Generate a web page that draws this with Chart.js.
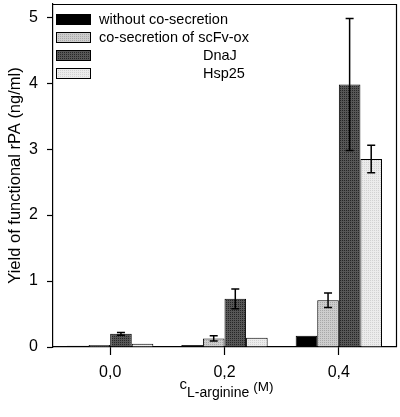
<!DOCTYPE html>
<html>
<head>
<meta charset="utf-8">
<script src="https://cdn.jsdelivr.net/npm/chart.js@4.4.1/dist/chart.umd.min.js"></script>
<style>
  html, body { margin: 0; padding: 0; background: #fff; }
  #wrap { width: 400px; height: 417px; }
</style>
</head>
<body>
<div id="wrap"><canvas id="c" width="400" height="417"></canvas></div>
<script>
// ---- data ----
const categories = ['0,0', '0,2', '0,4'];
const seriesNames = ['without co-secretion', 'co-secretion of scFv-ox', 'DnaJ', 'Hsp25'];
const withoutCoSecretion = [0.02, 0.03, 0.17];
const scFvOx = [0.03, 0.13, 0.71];
const dnaJ = [0.20, 0.73, 3.98];
const hsp25 = [0.05, 0.14, 2.85];
const errWithout = [0, 0, 0];
const errScFvOx = [0, 0.04, 0.11];
const errDnaJ = [0.02, 0.15, 1.00];
const errHsp25 = [0, 0, 0.21];
const yTicks = [0, 1, 2, 3, 4, 5];
const xTitleMain = 'c';
const xTitleSub = 'L-arginine';
const xTitleUnit = '(M)';
const yTitle = 'Yield of functional rPA (ng/ml)';

// ---- patterns ----
function makePattern(base, dot) {
  const p = document.createElement('canvas');
  p.width = 2; p.height = 2;
  const g = p.getContext('2d');
  g.fillStyle = base; g.fillRect(0, 0, 2, 2);
  g.fillStyle = dot; g.fillRect(0, 0, 1, 1);
  return document.getElementById('c').getContext('2d').createPattern(p, 'repeat');
}
const fills = [
  '#000000',
  makePattern('#cdcdcd', '#a8a8a8'),
  makePattern('#575757', '#262626'),
  makePattern('#ececec', '#d2d2d2')
];

const values = [withoutCoSecretion, scFvOx, dnaJ, hsp25];
const errors = [errWithout, errScFvOx, errDnaJ, errHsp25];

const datasets = values.map((v, i) => ({
  label: seriesNames[i],
  data: v,
  backgroundColor: fills[i],
  borderColor: '#000',
  borderWidth: 1,
  borderSkipped: 'bottom',
  categoryPercentage: 0.755,
  barPercentage: 1.0
}));

const framePlugin = {
  id: 'frame',
  afterDraw(chart) {
    const { ctx, chartArea: a } = chart;
    ctx.save();
    ctx.strokeStyle = '#000';
    ctx.lineWidth = 1.2;
    ctx.beginPath();
    ctx.moveTo(a.left, a.top + 0.5);
    ctx.lineTo(a.right + 0.5, a.top + 0.5);
    ctx.lineTo(a.right + 0.5, a.bottom);
    ctx.stroke();
    ctx.restore();
  }
};

const errorBarPlugin = {
  id: 'errbars',
  afterDatasetsDraw(chart) {
    const { ctx } = chart;
    const y = chart.scales.y;
    ctx.save();
    ctx.strokeStyle = '#000';
    ctx.lineWidth = 1.5;
    chart.data.datasets.forEach((ds, i) => {
      const meta = chart.getDatasetMeta(i);
      meta.data.forEach((bar, j) => {
        const e = errors[i][j];
        if (!e) return;
        const v = values[i][j];
        const x = bar.x;
        const yt = y.getPixelForValue(v + e);
        const yb = y.getPixelForValue(v - e);
        const cw = 4;
        ctx.beginPath();
        ctx.moveTo(x, yt); ctx.lineTo(x, yb);
        ctx.moveTo(x - cw, yt); ctx.lineTo(x + cw, yt);
        ctx.moveTo(x - cw, yb); ctx.lineTo(x + cw, yb);
        ctx.stroke();
      });
    });
    ctx.restore();
  }
};

const legendPlugin = {
  id: 'customLegend',
  afterDraw(chart) {
    const { ctx } = chart;
    const rows = [14, 32, 50, 68];
    const textX = [99, 99, 203, 203];
    ctx.save();
    ctx.font = '14.5px "Liberation Sans", Arial, sans-serif';
    ctx.textBaseline = 'middle';
    ctx.textAlign = 'left';
    chart.data.datasets.forEach((ds, i) => {
      const top = rows[i];
      ctx.fillStyle = ds.backgroundColor;
      ctx.fillRect(56, top, 35, 11);
      ctx.strokeStyle = '#000';
      ctx.lineWidth = 1;
      ctx.strokeRect(56.5, top + 0.5, 34, 10);
      ctx.fillStyle = '#000';
      ctx.fillText(ds.label, textX[i], top + 6);
    });
    ctx.restore();
  }
};

const titlesPlugin = {
  id: 'titles',
  afterDraw(chart) {
    const { ctx, chartArea: a } = chart;
    ctx.save();
    ctx.fillStyle = '#000';
    ctx.font = '16.5px "Liberation Sans", Arial, sans-serif';
    ctx.textAlign = 'center';
    ctx.textBaseline = 'alphabetic';
    ctx.translate(20, (a.top + a.bottom) / 2);
    ctx.rotate(-Math.PI / 2);
    ctx.fillText(yTitle, 0, 0);
    ctx.restore();

    ctx.save();
    ctx.fillStyle = '#000';
    ctx.textAlign = 'left';
    ctx.textBaseline = 'alphabetic';
    const fMain = '15px "Liberation Sans", Arial, sans-serif';
    const fSub = '14px "Liberation Sans", Arial, sans-serif';
    const fUnit = '13.5px "Liberation Sans", Arial, sans-serif';
    ctx.font = fMain; const w1 = ctx.measureText(xTitleMain).width;
    ctx.font = fSub; const w2 = ctx.measureText(xTitleSub).width;
    ctx.font = fUnit; const w3 = ctx.measureText(xTitleUnit).width;
    const gap = 4;
    let x = (a.left + a.right) / 2 - (w1 + w2 + gap + w3) / 2 + 2;
    ctx.font = fMain; ctx.fillText(xTitleMain, x, 389); x += w1;
    ctx.font = fSub; ctx.fillText(xTitleSub, x, 397); x += w2 + gap;
    ctx.font = fUnit; ctx.fillText(xTitleUnit, x, 391);
    ctx.restore();
  }
};

new Chart(document.getElementById('c'), {
  type: 'bar',
  data: { labels: categories, datasets },
  options: {
    responsive: false,
    animation: false,
    devicePixelRatio: 1,
    layout: { padding: { top: 4, right: 4, left: 0, bottom: 0 } },
    plugins: { legend: { display: false }, tooltip: { enabled: false }, title: { display: false } },
    scales: {
      x: {
        offset: true,
        grid: { display: true, drawOnChartArea: false, offset: false, tickLength: 8, color: '#000', tickWidth: 1.2 },
        border: { display: true, color: '#000', width: 1.2 },
        ticks: { color: '#000', font: { size: 16, family: '"Liberation Sans", Arial, sans-serif' }, padding: 8, maxRotation: 0 },
        afterFit(s) { s.height = 70; s.paddingLeft = 0; s.paddingRight = 0; }
      },
      y: {
        min: 0, max: 5.2,
        grid: { display: true, drawOnChartArea: false, tickLength: 6, color: '#000', tickWidth: 1.2 },
        border: { display: true, color: '#000', width: 1.2 },
        ticks: { color: '#000', stepSize: 1, font: { size: 16, family: '"Liberation Sans", Arial, sans-serif' }, padding: 9 },
        afterBuildTicks(s) { s.ticks = yTicks.map(v => ({ value: v })); },
        afterFit(s) { s.width = 53; s.paddingTop = 0; s.paddingBottom = 0; }
      }
    }
  },
  plugins: [framePlugin, errorBarPlugin, legendPlugin, titlesPlugin]
});
</script>
</body>
</html>
